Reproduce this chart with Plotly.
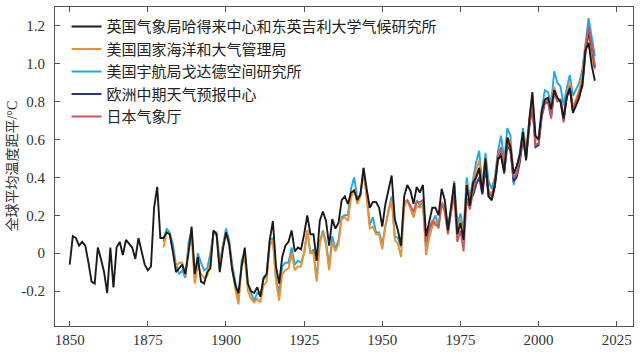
import plotly.graph_objects as go

# ---------------- data ----------------
years_hadcrut = list(range(1850, 2019))
hadcrut = [
    -0.06, 0.09, 0.08, 0.04, 0.06, 0.04, -0.05, -0.15, -0.16, 0.03,   # 1850-1859
    -0.03, -0.10, -0.21, 0.03, -0.18, 0.03, 0.06, -0.01, 0.07, 0.05,  # 1860-1869
    0.03, -0.03, 0.08, 0.01, -0.06, -0.09, -0.07, 0.24, 0.35, 0.08,   # 1870-1879
    0.08, 0.11, 0.10, 0.01, -0.10, -0.08, -0.06, -0.11, 0.00, 0.14,   # 1880-1889
    -0.11, -0.02, -0.15, -0.16, -0.10, -0.08, 0.12, 0.10, -0.10, 0.02, # 1890-1899
    0.11, 0.05, -0.09, -0.17, -0.21, -0.07, 0.03, -0.16, -0.20, -0.21, # 1900-1909
    -0.18, -0.23, -0.13, -0.11, 0.07, 0.17, -0.07, -0.16, -0.02, 0.04, # 1910-1919
    0.06, 0.12, 0.01, 0.03, 0.02, 0.10, 0.20, 0.10, 0.10, -0.04,      # 1920-1929
    0.17, 0.22, 0.17, 0.04, 0.18, 0.13, 0.16, 0.28, 0.30, 0.26,       # 1930-1939
    0.32, 0.33, 0.28, 0.31, 0.45, 0.34, 0.24, 0.27, 0.27, 0.24,       # 1940-1949
    0.14, 0.26, 0.34, 0.41, 0.18, 0.12, 0.04, 0.30, 0.36, 0.33,       # 1950-1959
    0.26, 0.35, 0.32, 0.36, 0.09, 0.17, 0.24, 0.24, 0.20, 0.34,       # 1960-1969
    0.28, 0.12, 0.25, 0.37, 0.10, 0.16, 0.07, 0.36, 0.25, 0.37,       # 1970-1979
    0.40, 0.45, 0.32, 0.50, 0.30, 0.28, 0.36, 0.50, 0.51, 0.43,       # 1980-1989
    0.61, 0.56, 0.42, 0.46, 0.52, 0.64, 0.49, 0.70, 0.85, 0.62,       # 1990-1999
    0.60, 0.75, 0.81, 0.82, 0.76, 0.86, 0.82, 0.80, 0.71, 0.82,       # 2000-2009
    0.87, 0.74, 0.78, 0.82, 0.89, 1.07, 1.11, 0.99, 0.91,             # 2010-2018
]

years_noaa = list(range(1880, 2019))
noaa = [
    0.03, 0.11, 0.10, 0.02, -0.07, -0.05, -0.05, -0.12, 0.02, 0.09,   # 1880-1889
    -0.16, -0.06, -0.11, -0.13, -0.12, -0.04, 0.11, 0.09, -0.08, 0.04, # 1890-1899
    0.11, 0.04, -0.09, -0.19, -0.27, -0.07, -0.02, -0.20, -0.24, -0.26, # 1900-1909
    -0.24, -0.26, -0.17, -0.15, 0.04, 0.07, -0.15, -0.25, -0.11, -0.09, # 1910-1919
    -0.08, 0.00, -0.09, -0.07, -0.07, 0.00, 0.12, 0.00, 0.00, -0.15,  # 1920-1929
    0.05, 0.11, 0.04, -0.09, 0.06, 0.01, 0.05, 0.18, 0.19, 0.17,      # 1930-1939
    0.29, 0.34, 0.26, 0.30, 0.45, 0.29, 0.13, 0.14, 0.10, 0.10,       # 1940-1949
    0.02, 0.15, 0.21, 0.28, 0.07, 0.05, -0.02, 0.24, 0.28, 0.24,      # 1950-1959
    0.19, 0.25, 0.24, 0.25, -0.01, 0.08, 0.14, 0.17, 0.13, 0.27,      # 1960-1969
    0.22, 0.11, 0.22, 0.36, 0.13, 0.18, 0.09, 0.37, 0.27, 0.36,       # 1970-1979
    0.44, 0.49, 0.33, 0.50, 0.33, 0.31, 0.37, 0.52, 0.55, 0.46,       # 1980-1989
    0.61, 0.59, 0.42, 0.45, 0.51, 0.64, 0.53, 0.70, 0.83, 0.60,       # 1990-1999
    0.60, 0.74, 0.81, 0.81, 0.77, 0.88, 0.82, 0.80, 0.73, 0.83,       # 2000-2009
    0.90, 0.77, 0.81, 0.86, 0.94, 1.10, 1.15, 1.04, 0.97,             # 2010-2018
]

years_nasa = list(range(1880, 2019))
nasa = [
    0.06, 0.13, 0.11, 0.05, -0.06, -0.11, -0.09, -0.13, 0.05, 0.12,   # 1880-1889
    -0.13, 0.00, -0.05, -0.09, -0.08, 0.00, 0.11, 0.11, -0.05, 0.05,  # 1890-1899
    0.13, 0.07, -0.06, -0.15, -0.25, -0.04, 0.00, -0.17, -0.21, -0.25, # 1900-1909
    -0.21, -0.22, -0.14, -0.12, 0.07, 0.08, -0.14, -0.21, -0.07, -0.05, # 1910-1919
    -0.05, 0.03, -0.06, -0.04, -0.05, 0.00, 0.12, 0.00, 0.02, -0.14,  # 1920-1929
    0.06, 0.12, 0.06, -0.07, 0.09, 0.02, 0.07, 0.19, 0.20, 0.20,      # 1930-1939
    0.34, 0.40, 0.29, 0.31, 0.42, 0.31, 0.15, 0.19, 0.11, 0.11,       # 1940-1949
    0.05, 0.15, 0.23, 0.30, 0.09, 0.08, 0.03, 0.27, 0.28, 0.25,       # 1950-1959
    0.19, 0.28, 0.25, 0.27, 0.02, 0.11, 0.16, 0.20, 0.14, 0.27,       # 1960-1969
    0.25, 0.14, 0.23, 0.38, 0.15, 0.21, 0.12, 0.40, 0.29, 0.38,       # 1970-1979
    0.48, 0.54, 0.36, 0.53, 0.38, 0.34, 0.40, 0.54, 0.62, 0.49,       # 1980-1989
    0.66, 0.62, 0.36, 0.45, 0.53, 0.66, 0.55, 0.68, 0.82, 0.60,       # 1990-1999
    0.61, 0.76, 0.86, 0.85, 0.79, 0.96, 0.90, 0.88, 0.78, 0.87,       # 2000-2009
    0.94, 0.83, 0.87, 0.90, 0.97, 1.12, 1.24, 1.14, 1.04,             # 2010-2018
]

years_ecmwf = list(range(1979, 2019))
ecmwf = [
    0.30,                                                             # 1979
    0.36, 0.40, 0.31, 0.45, 0.30, 0.28, 0.35, 0.49, 0.53, 0.42,       # 1980-1989
    0.57, 0.54, 0.38, 0.40, 0.48, 0.60, 0.50, 0.66, 0.78, 0.56,       # 1990-1999
    0.57, 0.72, 0.79, 0.80, 0.72, 0.85, 0.81, 0.81, 0.70, 0.83,       # 2000-2009
    0.87, 0.75, 0.80, 0.84, 0.88, 1.06, 1.17, 1.09, 0.98,             # 2010-2018
]

years_jma = list(range(1958, 2019))
jma = [
    0.28, 0.25,                                                       # 1958-1959
    0.22, 0.27, 0.27, 0.28, 0.06, 0.13, 0.17, 0.15, 0.14, 0.26,       # 1960-1969
    0.22, 0.10, 0.22, 0.30, 0.06, 0.12, 0.01, 0.29, 0.23, 0.32,       # 1970-1979
    0.40, 0.44, 0.33, 0.47, 0.32, 0.30, 0.37, 0.51, 0.56, 0.43,       # 1980-1989
    0.58, 0.55, 0.40, 0.42, 0.50, 0.62, 0.51, 0.67, 0.79, 0.57,       # 1990-1999
    0.58, 0.73, 0.80, 0.80, 0.71, 0.86, 0.80, 0.81, 0.69, 0.83,       # 2000-2009
    0.88, 0.75, 0.80, 0.85, 0.90, 1.08, 1.20, 1.10, 0.99,             # 2010-2018
]

series_names = [
    "英国气象局哈得来中心和东英吉利大学气候研究所",
    "美国国家海洋和大气管理局",
    "美国宇航局戈达德空间研究所",
    "欧洲中期天气预报中心",
    "日本气象厅",
]
series_colors = ["#1b1b1b", "#ef8f2e", "#22a9e1", "#2e3580", "#c9575c"]

x_tick_vals = [1850, 1875, 1900, 1925, 1950, 1975, 2000, 2025]
x_tick_text = ["1850", "1875", "1900", "1925", "1950", "1975", "2000", "2025"]
y_tick_vals = [-0.2, 0, 0.2, 0.4, 0.6, 0.8, 1.0, 1.2]
y_tick_text = ["-0.2", "0", "0.2", "0.4", "0.6", "0.8", "1.0", "1.2"]
y_title = "全球平均温度距平/°C"

# ---------------- figure ----------------
FONT = "'Liberation Serif', 'Noto Sans CJK SC', serif"
fig = go.Figure()

# drawing order: NASA, NOAA, ECMWF, JMA, HadCRUT (on top); legend order via legendrank
draw = [
    (years_nasa, nasa, 2),
    (years_noaa, noaa, 1),
    (years_ecmwf, ecmwf, 3),
    (years_jma, jma, 4),
    (years_hadcrut, hadcrut, 0),
]
for xs, ys, idx in draw:
    fig.add_trace(go.Scatter(
        x=xs, y=ys, mode="lines",
        name=series_names[idx],
        line=dict(color=series_colors[idx], width=1.9),
        legendrank=idx + 1,
        legendgroup=f"g{idx}",
    ))

axis_common = dict(
    showline=True, linecolor="#555555", linewidth=1, mirror="ticks",
    ticks="inside", ticklen=5, tickcolor="#555555", tickwidth=1,
    showgrid=False, zeroline=False,
    tickfont=dict(family=FONT, size=15, color="#333333"),
)

fig.update_layout(
    width=640, height=354,
    margin=dict(l=55, r=6, t=6, b=24),
    paper_bgcolor="white", plot_bgcolor="white",
    showlegend=True,
    legend=dict(
        x=0.02, y=0.99, xanchor="left", yanchor="top",
        bgcolor="rgba(0,0,0,0)", borderwidth=0,
        font=dict(family=FONT, size=15, color="#222222"),
        traceorder="grouped", tracegroupgap=0,
    ),
    xaxis=dict(range=[1845.3, 2030.2], tickvals=x_tick_vals, ticktext=x_tick_text,
               ticklabelstandoff=0, **axis_common),
    yaxis=dict(range=[-0.384, 1.299], tickvals=y_tick_vals, ticktext=y_tick_text,
               ticklabelstandoff=6, **axis_common),
    annotations=[dict(
        text=y_title, xref="paper", yref="paper",
        x=(11 - 55) / 579, y=0.5, xanchor="center", yanchor="middle",
        textangle=-90, showarrow=False,
        font=dict(family=FONT, size=14, color="#333333"),
    )],
)

fig.write_html("out.html")
